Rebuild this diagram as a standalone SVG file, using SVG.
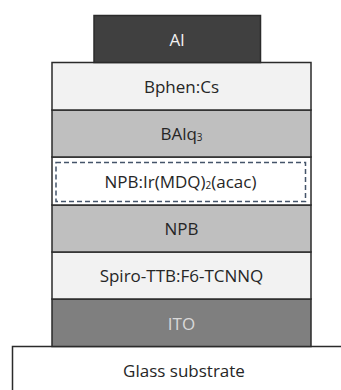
<svg xmlns="http://www.w3.org/2000/svg" width="341" height="390" viewBox="0 0 341 390">
  <style>
    .layer { stroke: #2b2b2b; stroke-width: 1.5; }
    .lbl { font-family: "Open Sans", "Liberation Sans", sans-serif; font-size: 17px; text-anchor: middle; fill: #262626; }
    .sub { font-size: 10px; }
  </style>
  <rect width="341" height="390" fill="#ffffff"/>

  <!-- substrate -->
  <g id="glass">
    <rect class="layer" x="12.5" y="346.5" width="345" height="60" fill="#ffffff"/>
    <text class="lbl" x="184" y="377">Glass substrate</text>
  </g>

  <!-- device stack, bottom to top -->
  <g id="ito">
    <rect class="layer" x="52" y="299" width="259" height="47.5" fill="#7f7f7f"/>
    <text class="lbl" x="181.5" y="329.5" style="fill:#d9d9d9">ITO</text>
  </g>
  <g id="spiro">
    <rect class="layer" x="52" y="252" width="259" height="47" fill="#f2f2f2"/>
    <text class="lbl" x="181.5" y="282">Spiro-TTB:F6-TCNNQ</text>
  </g>
  <g id="npb">
    <rect class="layer" x="52" y="205" width="259" height="47" fill="#bfbfbf"/>
    <text class="lbl" x="181.5" y="235">NPB</text>
  </g>
  <g id="eml">
    <rect class="layer" x="52" y="157" width="259" height="48" fill="#ffffff"/>
    <rect x="56" y="162.5" width="249.5" height="39" fill="none" stroke="#44546a" stroke-width="1.5" stroke-dasharray="5,3"/>
    <text class="lbl" x="180.5" y="187.5">NPB:Ir(MDQ)<tspan class="sub" dy="1">2</tspan><tspan dy="-1">(acac)</tspan></text>
  </g>
  <g id="balq3">
    <rect class="layer" x="52" y="110" width="259" height="47" fill="#bfbfbf"/>
    <text class="lbl" x="181.5" y="140">BAlq<tspan class="sub" dy="1">3</tspan></text>
  </g>
  <g id="bphen">
    <rect class="layer" x="52" y="62.5" width="259" height="47.5" fill="#f2f2f2"/>
    <text class="lbl" x="181.5" y="92.5">Bphen:Cs</text>
  </g>
  <g id="al">
    <rect class="layer" x="94" y="15.5" width="166.5" height="47" fill="#404040"/>
    <text class="lbl" x="177" y="45.5" style="fill:#f2f2f2">Al</text>
  </g>
</svg>
